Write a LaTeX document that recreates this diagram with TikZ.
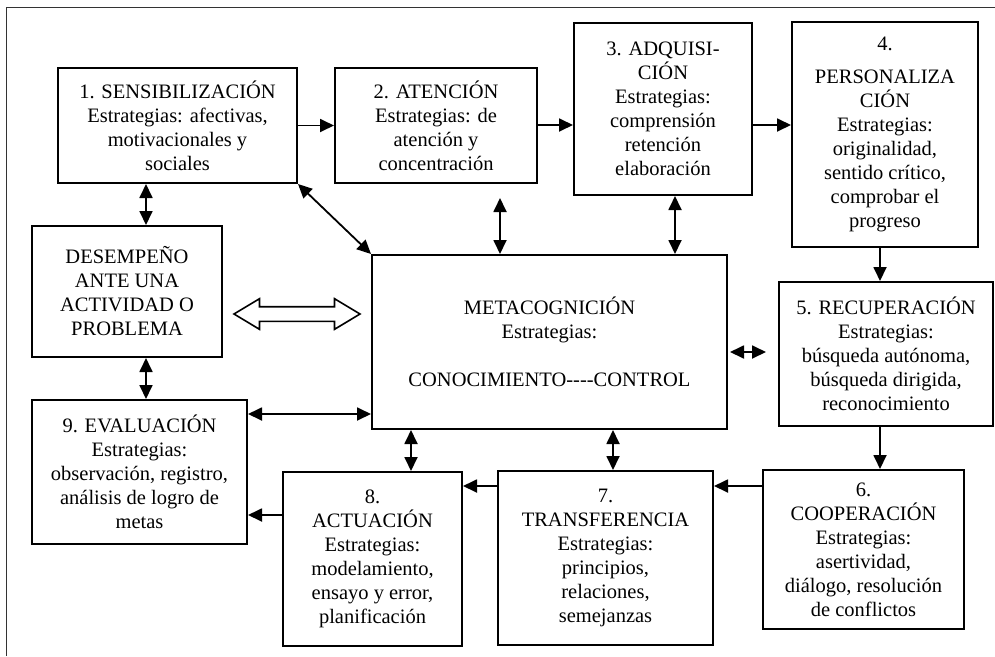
\documentclass[tikz,border=0pt]{standalone}
\usepackage{fontspec}
\setmainfont{Liberation Serif}
\usepackage{tikz}
\usetikzlibrary{arrows.meta}
\usetikzlibrary{calc}
\usetikzlibrary{shapes.arrows}
\tikzstyle{caja} = [draw, line width=2pt, align=center, inner sep=1pt,
	font=\fontsize{20.5}{24}\selectfont]
\tikzstyle{flecha} = [-{Triangle[length=14pt, width=13pt]}, line width=1.8pt]
\tikzstyle{dflecha} = [{Triangle[length=14pt, width=13pt]}-{Triangle[length=14pt, width=13pt]}, line width=1.8pt]
\tikzstyle{hueca} = [draw, shape=double arrow, line width=1.6pt, inner xsep=0pt, inner ysep=6.5pt,
	double arrow head extend=8pt, double arrow tip angle=62]
\tikzstyle{marco} = [line width=1.8pt, black!80]

\begin{document}
\begin{tikzpicture}[x=1pt, y=-1pt]
			\useasboundingbox (0,0) rectangle (995,656);
			\draw [marco] (6.5,656) -- (6.5,7.5) -- (995,7.5);
			
			\node (s1)[caja, minimum width=239pt, minimum height=115pt] at (177.5,125.5) {1. SENSIBILIZACIÓN\\Estrategias: afectivas,\\motivacionales y\\sociales};
			\node (s2)[caja, minimum width=202pt, minimum height=115pt] at (436,125.5) {2. ATENCIÓN\\Estrategias: de\\atención y\\concentración};
			\node (s3)[caja, minimum width=178pt, minimum height=172pt] at (663,109) {3. ADQUISI-\\CIÓN\\Estrategias:\\comprensión\\retención\\elaboración};
			\node (s4)[caja, minimum width=186pt, minimum height=225pt] at (885,134.5) {4.\\[9pt]PERSONALIZA\\CIÓN\\Estrategias:\\originalidad,\\sentido crítico,\\comprobar el\\progreso};
			\node (des)[caja, minimum width=190pt, minimum height=131pt] at (127,291.5) {DESEMPEÑO\\ANTE UNA\\ACTIVIDAD O\\PROBLEMA};
			\node (meta)[caja, minimum width=355pt, minimum height=174pt] at (549.5,342) {METACOGNICIÓN\\Estrategias:\\[24pt]CONOCIMIENTO{-}{-}{-}{-}CONTROL};
			\node (s5)[caja, minimum width=214pt, minimum height=144pt] at (886,354) {5. RECUPERACIÓN\\Estrategias:\\búsqueda autónoma,\\búsqueda dirigida,\\reconocimiento};
			\node (s6)[caja, minimum width=201pt, minimum height=159pt] at (863.5,549.5) {6.\\COOPERACIÓN\\Estrategias:\\asertividad,\\diálogo, resolución\\de conflictos};
			\node (s7)[caja, minimum width=215pt, minimum height=174pt] at (605.5,558) {7.\\TRANSFERENCIA\\Estrategias:\\principios,\\relaciones,\\semejanzas};
			\node (s8)[caja, minimum width=179pt, minimum height=174pt] at (372.5,559) {8.\\ACTUACIÓN\\Estrategias:\\modelamiento,\\ensayo y error,\\planificación};
			\node (s9)[caja, minimum width=215pt, minimum height=144pt] at (139.5,472) {9. EVALUACIÓN\\Estrategias:\\observación, registro,\\análisis de logro de\\metas};
			\node (doble)[hueca, minimum height=126pt] at (297,314) {};
			
			\coordinate (cx1) at (146,0);
			\coordinate (cx2) at (500,0);
			\coordinate (cx3) at (675,0);
			\coordinate (cx5) at (880,0);
			\coordinate (cx8) at (411,0);
			\coordinate (cx7) at (613,0);
			\coordinate (cy1) at (0,125);
			\coordinate (cy5) at (0,352);
			\coordinate (cy6) at (0,486);
			\coordinate (cy8) at (0,515);
			\coordinate (cy9) at (0,414);
			
			\draw [flecha] (s1) -- (s2);
			\draw [flecha] (s2.east |- cy1) -- (s3.west |- cy1);
			\draw [flecha] (s3.east |- cy1) -- (s4.west |- cy1);
			\draw [flecha] (s4.south -| cx5) -- (s5.north -| cx5);
			\draw [flecha] (s5.south -| cx5) -- (s6.north -| cx5);
			\draw [flecha] (s6.west |- cy6) -- (s7.east |- cy6);
			\draw [flecha] (s7.west |- cy6) -- (s8.east |- cy6);
			\draw [flecha] (s8.west |- cy8) -- (s9.east |- cy8);
			
			\draw [dflecha] (s1.south -| cx1) -- (des.north -| cx1);
			\draw [dflecha] (des.south -| cx1) -- (s9.north -| cx1);
			\draw [dflecha] (s1.south east) -- (meta.north west);
			\draw [dflecha, shorten >=14pt] (meta.north -| cx2) -- (s2.south -| cx2);
			\draw [dflecha] (meta.north -| cx3) -- (s3.south -| cx3);
			\draw [dflecha, shorten <=2pt, shorten >=12pt] (meta.east |- cy5) -- (s5.west |- cy5);
			\draw [dflecha] (s9.east |- cy9) -- (meta.west |- cy9);
			\draw [dflecha] (meta.south -| cx8) -- (s8.north -| cx8);
			\draw [dflecha] (meta.south -| cx7) -- (s7.north -| cx7);
			
		\end{tikzpicture}
\end{document}
